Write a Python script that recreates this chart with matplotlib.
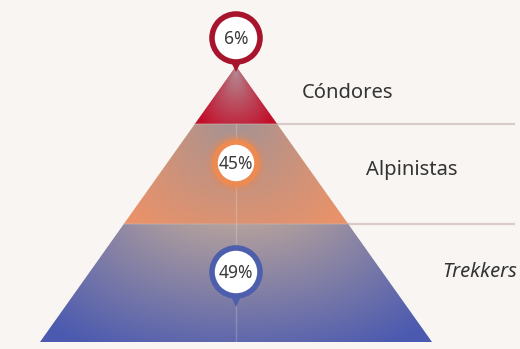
import numpy as np
import matplotlib.pyplot as plt
from matplotlib.patches import Polygon, Circle
from matplotlib.colors import to_rgb

# segments, top to bottom
segments = ["Cóndores", "Alpinistas", "Trekkers"]
shares = [6, 45, 49]
ring_colors = ["#a8142c", "#ec8a52", "#4d5eac"]
tier_top = ["#b2939a", "#a99391", "#b3a09d"]
tier_bottom = ["#c20f2a", "#e8926a", "#4b5ab0"]

W, H = 520, 349
bg = "#f8f5f2"
apex = (236, 66)
base_y, base_l, base_r = 342, 40, 432
cuts = [66, 124, 224, 342]


def edge_x(y):
    f = (y - apex[1]) / (base_y - apex[1])
    return apex[0] + (base_l - apex[0]) * f, apex[0] + (base_r - apex[0]) * f


fig = plt.figure(figsize=(W / 100, H / 100), dpi=100, facecolor=bg)
ax = fig.add_axes([0, 0, 1, 1])
ax.set_xlim(0, W)
ax.set_ylim(H, 0)
ax.axis("off")
ax.set_facecolor(bg)

# separator lines to the right of the pyramid
for y in cuts[1:3]:
    xl, xr = edge_x(y)
    ax.plot([xr - 8, 514], [y, y], color="#d8cbc8", lw=1.6, zorder=1)

xs = np.arange(base_l, base_r + 1)
for i in range(3):
    y0, y1 = cuts[i], cuts[i + 1]
    ys = np.arange(y0, y1 + 1)
    X, Y = np.meshgrid(xs, ys)
    xl, xr = edge_x(Y)
    half = np.maximum((xr - xl) / 2, 1)
    u = np.abs(X - apex[0]) / half
    v = (Y - y0) / (y1 - y0)
    s = np.clip(0.8 * v + 0.3 * u ** 2, 0, 1)[..., None]
    c0 = np.array(to_rgb(tier_top[i]))
    c1 = np.array(to_rgb(tier_bottom[i]))
    img = c0 * (1 - s) + c1 * s
    im = ax.imshow(img, extent=(base_l, base_r, y1, y0), origin="upper",
                   interpolation="bilinear", zorder=2)
    tl, tr = edge_x(y0)
    bl, br = edge_x(y1)
    clip = Polygon([(tl, y0), (tr, y0), (br, y1), (bl, y1)], closed=True,
                   transform=ax.transData, facecolor="none", edgecolor="none")
    ax.add_patch(clip)
    im.set_clip_path(clip)

# faint centre line and tier boundaries
ax.plot([apex[0], apex[0]], [124, base_y], color="white", alpha=0.2, lw=1, zorder=3)
for y in cuts[1:3]:
    xl, xr = edge_x(y)
    ax.plot([xl, xr], [y, y], color="#c9b7b4", alpha=0.4, lw=1.2, zorder=3)

# pin markers with the shares
pins = [(38, 24, 72, False), (163, 21, None, True), (272, 24, 307, False)]
for (cy, r, tip, glow), val, col in zip(pins, shares, ring_colors):
    if glow:
        for k, a in zip([9, 6, 3], [0.15, 0.25, 0.4]):
            ax.add_patch(Circle((apex[0], cy), r + k, facecolor=col, edgecolor="none",
                                alpha=a, zorder=4))
    if tip:
        ax.add_patch(Polygon([(apex[0] - 6, cy + r - 2), (apex[0] + 6, cy + r - 2),
                              (apex[0], tip)], closed=True, facecolor=col,
                             edgecolor="none", zorder=4))
    ax.add_patch(Circle((apex[0], cy), r, facecolor="white", edgecolor=col,
                        lw=4, zorder=5))
    ax.text(apex[0], cy + 1, f"{val}%", ha="center", va="center", fontsize=12.5,
            color="#3a3a3a", family="Noto Sans", zorder=6)

label_pos = [(302, 93, "normal"), (366, 170, "normal"), (442, 272, "italic")]
for name, (x, y, st) in zip(segments, label_pos):
    ax.text(x, y, name, ha="left", va="center", fontsize=14.5, color="#333333",
            family="Noto Sans", style=st, zorder=6)

fig.savefig("out.png", dpi=100, facecolor=bg)
